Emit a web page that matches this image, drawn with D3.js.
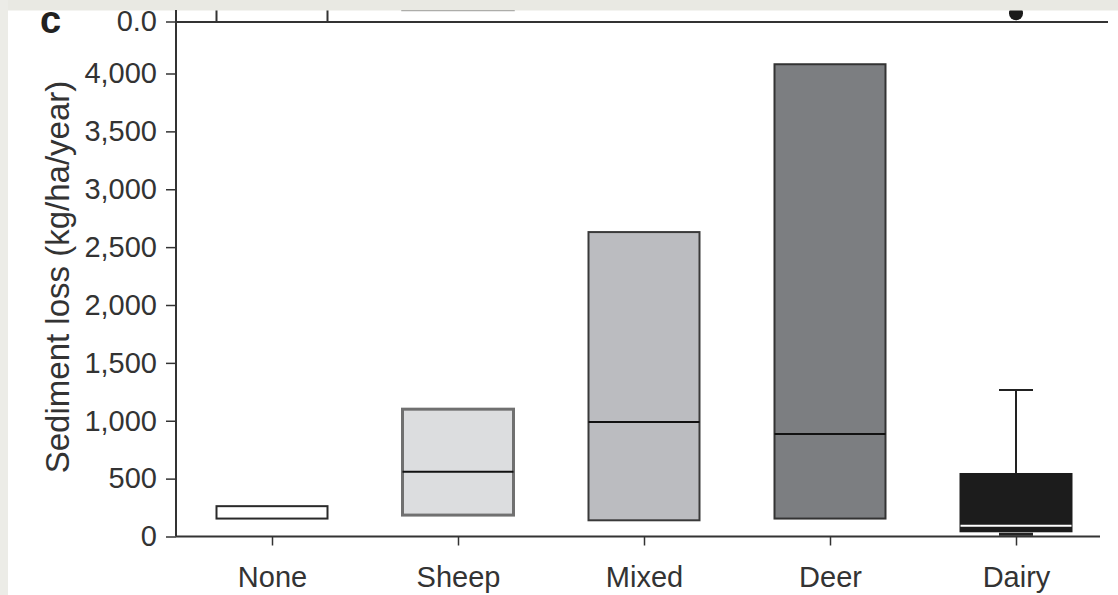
<!DOCTYPE html>
<html>
<head>
<meta charset="utf-8">
<script src="https://cdn.jsdelivr.net/npm/d3@7"></script>
<style>
  body { margin: 0; background: #fff; }
  svg { display: block; font-family: 'Liberation Sans', Arial, Helvetica, sans-serif; }
</style>
</head>
<body>
<script>
const width = 1118
const height = 595

// Panel c: sediment loss box plots
const categories = ['None', 'Sheep', 'Mixed', 'Deer', 'Dairy']
const q1 = [155, 185, 140, 155, 45]
const medians = [null, 560, 990, 885, 93]
const q3 = [262, 1100, 2630, 4080, 540]
const whiskerLow = [null, null, null, null, 20]
const whiskerHigh = [null, null, null, null, 1265]
const yTicks = [0, 500, 1000, 1500, 2000, 2500, 3000, 3500, 4000]

// Bits of panel b still visible at the top of the crop
const panelBTicks = [0.0]
const panelBLow = [0, 0.55, null, null, null]
const panelBHigh = [3, 3, null, null, null]
const panelBOutlier = [null, null, null, null, 0.4]

const fills = ['#ffffff', '#dcdddf', '#bbbcc0', '#7c7e81', '#1c1c1c']
const strokes = ['#2a2a2a', '#707070', '#3a3a3a', '#333333', '#1c1c1c']

const axisX = 176
const axisRight = 1100
const bottomY = 536.5
const topY = 22
const boxWidth = 111
const fontSize = 29

const svg = d3.select('body')
  .append('svg')
  .attr('width', width)
  .attr('height', height)

svg.append('rect').attr('width', width).attr('height', height).attr('fill', '#fff')

const x = d3.scalePoint()
  .domain(categories)
  .range([axisX + 96, axisX + 840])

const y = d3.scaleLinear()
  .domain([0, 4000])
  .range([bottomY, 73.5])

const yB = d3.scaleLinear().domain([0, 1]).range([topY, 0])

const rows = categories.map((c, i) => ({
  cat: c, q1: q1[i], med: medians[i], q3: q3[i],
  lo: whiskerLow[i], hi: whiskerHigh[i],
  fill: fills[i], stroke: strokes[i]
}))

// panel b remnants
const gb = svg.append('g').attr('class', 'panel-b')
categories.forEach((c, i) => {
  if (panelBLow[i] === null) return
  const x0 = x(c) - boxWidth / 2
  const x1 = x(c) + boxWidth / 2
  if (i === 0) {
    gb.append('line').attr('x1', x0).attr('x2', x0).attr('y1', yB(panelBHigh[i])).attr('y2', yB(panelBLow[i]))
      .attr('stroke', '#333').attr('stroke-width', 2)
    gb.append('line').attr('x1', x1).attr('x2', x1).attr('y1', yB(panelBHigh[i])).attr('y2', yB(panelBLow[i]))
      .attr('stroke', '#333').attr('stroke-width', 2)
  } else {
    gb.append('rect').attr('x', x0).attr('width', boxWidth)
      .attr('y', yB(panelBHigh[i])).attr('height', yB(panelBLow[i]) - yB(panelBHigh[i]))
      .attr('fill', fills[i]).attr('stroke', strokes[i]).attr('stroke-width', 2.5)
  }
})
categories.forEach((c, i) => {
  if (panelBOutlier[i] === null) return
  gb.append('circle').attr('cx', x(c)).attr('cy', yB(panelBOutlier[i])).attr('r', 7).attr('fill', '#1a1a1a')
})

// light grey scan edge along the top and left
svg.append('rect').attr('x', 0).attr('y', 0).attr('width', width).attr('height', 10.5).attr('fill', '#e9e9e3')
svg.append('rect').attr('x', 0).attr('y', 0).attr('width', 8).attr('height', height).attr('fill', '#ecece7')

// top axis of panel b
svg.append('line')
  .attr('x1', axisX).attr('x2', 1108).attr('y1', topY).attr('y2', topY)
  .attr('stroke', '#333').attr('stroke-width', 2)
svg.selectAll('.btick')
  .data(panelBTicks)
  .enter()
  .append('g')
  .attr('class', 'btick')
  .each(function (d) {
    const g = d3.select(this)
    g.append('line').attr('x1', axisX - 10).attr('x2', axisX).attr('y1', yB(d)).attr('y2', yB(d))
      .attr('stroke', '#333').attr('stroke-width', 1.5)
    g.append('text').attr('x', axisX - 19).attr('y', yB(d)).attr('dy', '0.32em')
      .attr('text-anchor', 'end').attr('font-size', fontSize).attr('fill', '#333')
      .text(d3.format('.1f')(d))
  })

svg.append('text')
  .attr('x', 40).attr('y', topY).attr('dy', '0.28em')
  .attr('font-size', 38).attr('font-weight', 'bold').attr('fill', '#222')
  .text('c')

// y axis
const yAxis = svg.append('g')
  .attr('transform', `translate(${axisX}, 0)`)
  .call(d3.axisLeft(y).tickValues(yTicks).tickFormat(d3.format(',')).tickSize(10).tickPadding(9).tickSizeOuter(0))
yAxis.select('.domain').remove()
yAxis.selectAll('.tick line').attr('stroke', '#333').attr('stroke-width', 1.5)
yAxis.selectAll('.tick text').attr('font-size', fontSize).attr('fill', '#333').attr('font-family', null)
svg.append('line')
  .attr('x1', axisX).attr('x2', axisX).attr('y1', 10).attr('y2', bottomY)
  .attr('stroke', '#333').attr('stroke-width', 2)

// x axis
const xAxis = svg.append('g')
  .attr('transform', `translate(0, ${bottomY})`)
  .call(d3.axisBottom(x).tickSize(9).tickPadding(21).tickSizeOuter(0))
xAxis.select('.domain').remove()
xAxis.selectAll('.tick line').attr('stroke', '#333').attr('stroke-width', 1.5)
xAxis.selectAll('.tick text').attr('font-size', fontSize).attr('fill', '#333').attr('font-family', null)
svg.append('line')
  .attr('x1', axisX).attr('x2', axisRight).attr('y1', bottomY).attr('y2', bottomY)
  .attr('stroke', '#333').attr('stroke-width', 2)

svg.append('text')
  .attr('transform', 'translate(57, 277) rotate(-90)')
  .attr('text-anchor', 'middle')
  .attr('dy', '0.35em')
  .attr('font-size', 33)
  .attr('fill', '#333')
  .text('Sediment loss (kg/ha/year)')

// boxes
const boxes = svg.append('g').attr('class', 'boxes')
  .selectAll('g')
  .data(rows)
  .enter()
  .append('g')

boxes.filter((d) => d.hi !== null)
  .append('line')
  .attr('x1', (d) => x(d.cat)).attr('x2', (d) => x(d.cat))
  .attr('y1', (d) => y(d.hi)).attr('y2', (d) => y(d.q3))
  .attr('stroke', '#222').attr('stroke-width', 2)
boxes.filter((d) => d.hi !== null)
  .append('line')
  .attr('x1', (d) => x(d.cat) - 17).attr('x2', (d) => x(d.cat) + 17)
  .attr('y1', (d) => y(d.hi)).attr('y2', (d) => y(d.hi))
  .attr('stroke', '#222').attr('stroke-width', 2)
boxes.filter((d) => d.lo !== null)
  .append('line')
  .attr('x1', (d) => x(d.cat) - 17).attr('x2', (d) => x(d.cat) + 17)
  .attr('y1', (d) => y(d.lo)).attr('y2', (d) => y(d.lo))
  .attr('stroke', '#222').attr('stroke-width', 3)

boxes.append('rect')
  .attr('x', (d) => x(d.cat) - boxWidth / 2)
  .attr('width', boxWidth)
  .attr('y', (d) => y(d.q3))
  .attr('height', (d) => y(d.q1) - y(d.q3))
  .attr('fill', (d) => d.fill)
  .attr('stroke', (d) => d.stroke)
  .attr('stroke-width', (d) => d.cat === 'Sheep' ? 3 : 2)

boxes.filter((d) => d.med !== null)
  .append('line')
  .attr('x1', (d) => x(d.cat) - boxWidth / 2)
  .attr('x2', (d) => x(d.cat) + boxWidth / 2)
  .attr('y1', (d) => y(d.med)).attr('y2', (d) => y(d.med))
  .attr('stroke', (d) => d.cat === 'Dairy' ? '#fff' : '#111')
  .attr('stroke-width', 2)
</script>
</body>
</html>
